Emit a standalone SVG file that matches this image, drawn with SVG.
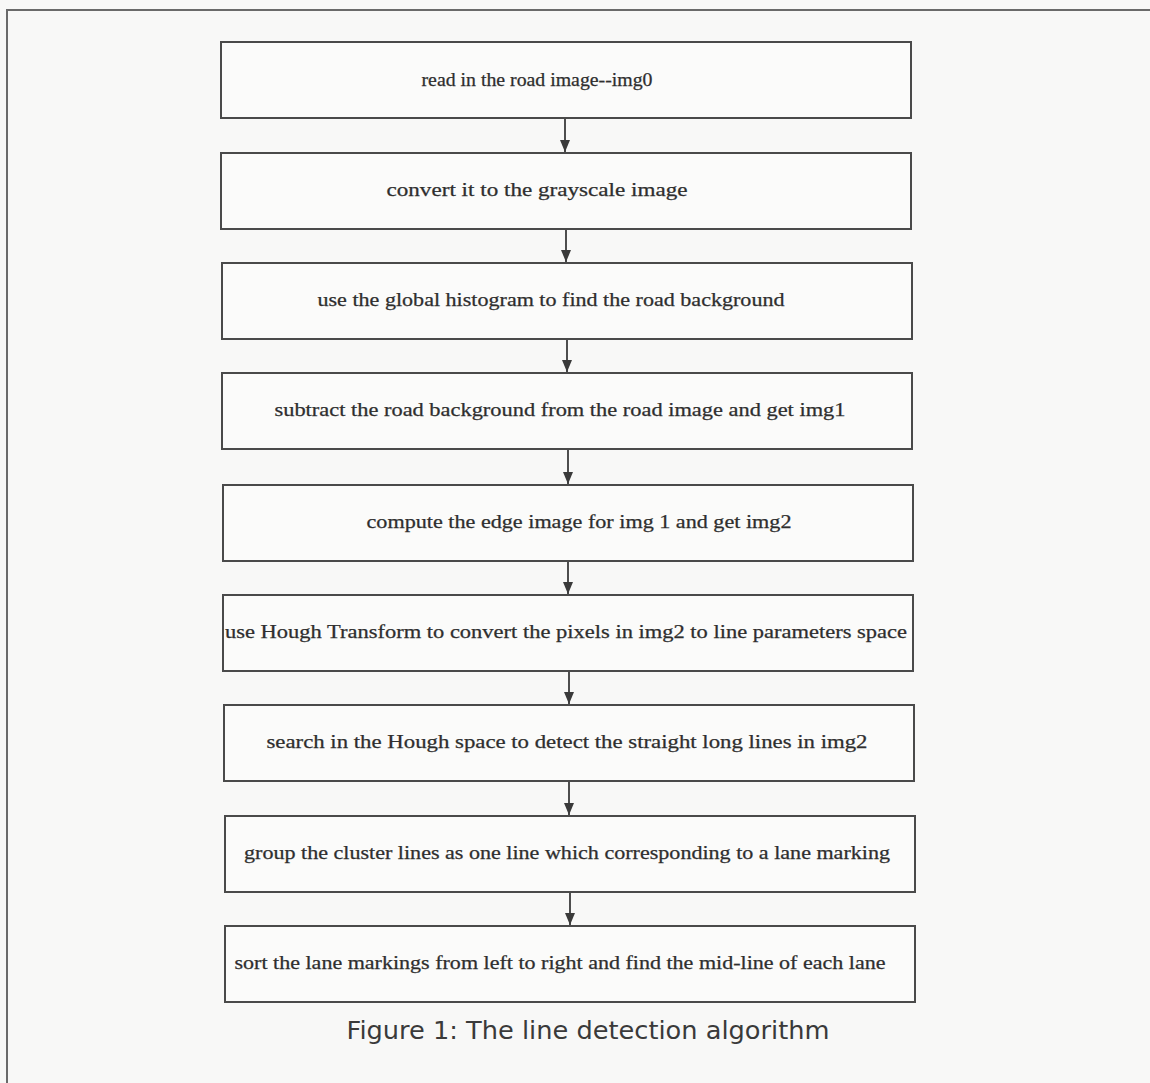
<svg xmlns="http://www.w3.org/2000/svg" width="1150" height="1083" viewBox="0 0 1150 1083">
<defs>
<marker id="arr" markerWidth="12" markerHeight="10" refX="12" refY="5" orient="auto" markerUnits="userSpaceOnUse" viewBox="0 0 12 10">
<path d="M0,0 L12,5 L0,10 Z" fill="#3a3a3a"/>
</marker>
<style>
.bg{fill:#f8f8f7}
.frame{fill:none;stroke:#6a6a6a;stroke-width:2}
.box{fill:#fbfbfa;stroke:#4a4a4a;stroke-width:2}
.t{font-family:"Liberation Serif","Times New Roman",serif;font-size:18px;fill:#2e2e2e;text-anchor:middle;stroke:#2e2e2e;stroke-width:0.25}
.cap{font-family:"DejaVu Sans",Verdana,sans-serif;font-size:25px;fill:#3a3a3a;text-anchor:middle}
.c{stroke:#3a3a3a;stroke-width:1.8;fill:none}
</style>
</defs>
<rect class="bg" x="0" y="0" width="1150" height="1083"/>
<path class="frame" d="M7,1083 L7,10 L1150,10"/>
<g id="connectors">
<line class="c" x1="565" y1="119" x2="565" y2="152" marker-end="url(#arr)"/>
<line class="c" x1="566" y1="230" x2="566" y2="262" marker-end="url(#arr)"/>
<line class="c" x1="567" y1="340" x2="567" y2="372" marker-end="url(#arr)"/>
<line class="c" x1="568" y1="450" x2="568" y2="484" marker-end="url(#arr)"/>
<line class="c" x1="568" y1="561" x2="568" y2="594" marker-end="url(#arr)"/>
<line class="c" x1="569" y1="672" x2="569" y2="704" marker-end="url(#arr)"/>
<line class="c" x1="569" y1="782" x2="569" y2="815" marker-end="url(#arr)"/>
<line class="c" x1="570" y1="893" x2="570" y2="925" marker-end="url(#arr)"/>
</g>
<g id="n1"><rect class="box" x="221" y="42" width="690" height="76"/><text class="t" x="537" y="86" textLength="231" lengthAdjust="spacingAndGlyphs">read in the road image--img0</text></g>
<g id="n2"><rect class="box" x="221" y="153" width="690" height="76"/><text class="t" x="537" y="196" textLength="301" lengthAdjust="spacingAndGlyphs">convert it to the grayscale image</text></g>
<g id="n3"><rect class="box" x="222" y="263" width="690" height="76"/><text class="t" x="551" y="306" textLength="467" lengthAdjust="spacingAndGlyphs">use the global histogram to find the road background</text></g>
<g id="n4"><rect class="box" x="222" y="373" width="690" height="76"/><text class="t" x="560" y="416" textLength="571" lengthAdjust="spacingAndGlyphs">subtract the road background from the road image and get img1</text></g>
<g id="n5"><rect class="box" x="223" y="485" width="690" height="76"/><text class="t" x="579" y="528" textLength="425" lengthAdjust="spacingAndGlyphs">compute the edge image for img 1 and get img2</text></g>
<g id="n6"><rect class="box" x="223" y="595" width="690" height="76"/><text class="t" x="566" y="638" textLength="682" lengthAdjust="spacingAndGlyphs">use Hough Transform to convert the pixels in img2 to line parameters space</text></g>
<g id="n7"><rect class="box" x="224" y="705" width="690" height="76"/><text class="t" x="567" y="748" textLength="601" lengthAdjust="spacingAndGlyphs">search in the Hough space to detect the straight long lines in img2</text></g>
<g id="n8"><rect class="box" x="225" y="816" width="690" height="76"/><text class="t" x="567" y="859" textLength="646" lengthAdjust="spacingAndGlyphs">group the cluster lines as one line which corresponding to a lane marking</text></g>
<g id="n9"><rect class="box" x="225" y="926" width="690" height="76"/><text class="t" x="560" y="969" textLength="651" lengthAdjust="spacingAndGlyphs">sort the lane markings from left to right and find the mid-line of each lane</text></g>
<text class="cap" x="588" y="1039" textLength="483" lengthAdjust="spacingAndGlyphs">Figure 1: The line detection algorithm</text>
</svg>
